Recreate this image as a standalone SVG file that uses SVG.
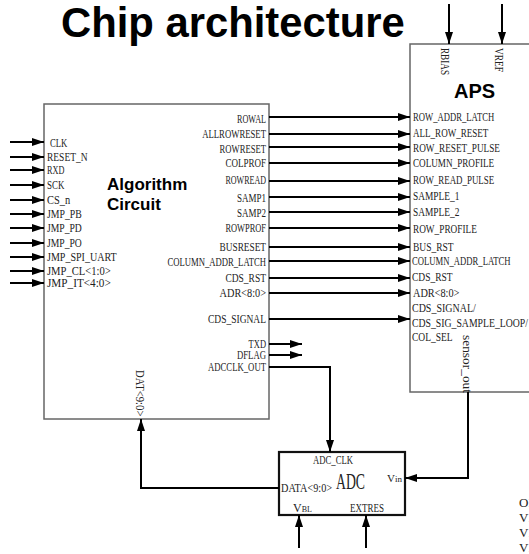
<svg xmlns="http://www.w3.org/2000/svg" width="529" height="554" viewBox="0 0 529 554">
<style>
.box{fill:#fff;stroke:#666;stroke-width:1.5}
.adc{fill:#fff;stroke:#111;stroke-width:2.2}
.w{fill:none;stroke:#000;stroke-width:2}
.l{font-family:"Liberation Serif","Times New Roman",serif;font-size:13px;fill:#222}
.e{text-anchor:end}
.t{font-family:"Liberation Sans",Arial,sans-serif;font-weight:bold;fill:#000}
</style>
<defs>
<marker id="ah" markerUnits="userSpaceOnUse" markerWidth="13" markerHeight="8" refX="12" refY="4" orient="auto">
<path d="M0,0 L12,4 L0,8 z" fill="#000"/>
</marker>
</defs>
<text class="t" x="61" y="37" style="font-size:41.8px">Chip architecture</text>

<g id="algorithm">
<rect class="box" x="44" y="104" width="225" height="315"/>
<text class="t" x="107" y="190" style="font-size:17px">Algorithm</text>
<text class="t" x="107" y="210" style="font-size:17px">Circuit</text>
<text class="l" x="50" y="147" textLength="17.4" lengthAdjust="spacingAndGlyphs">CLK</text>
<text class="l" x="47" y="161" textLength="40.6" lengthAdjust="spacingAndGlyphs">RESET_N</text>
<text class="l" x="47" y="174" textLength="17.4" lengthAdjust="spacingAndGlyphs">RXD</text>
<text class="l" x="47" y="189" textLength="17.4" lengthAdjust="spacingAndGlyphs">SCK</text>
<text class="l" x="47" y="204" textLength="23.2" lengthAdjust="spacingAndGlyphs">CS_n</text>
<text class="l" x="47" y="218" textLength="34.8" lengthAdjust="spacingAndGlyphs">JMP_PB</text>
<text class="l" x="47" y="232" textLength="34.8" lengthAdjust="spacingAndGlyphs">JMP_PD</text>
<text class="l" x="47" y="247" textLength="34.8" lengthAdjust="spacingAndGlyphs">JMP_PO</text>
<text class="l" x="47" y="261" textLength="69.6" lengthAdjust="spacingAndGlyphs">JMP_SPI_UART</text>
<text class="l" x="47" y="275" textLength="63.8" lengthAdjust="spacingAndGlyphs">JMP_CL&lt;1:0&gt;</text>
<text class="l" x="47" y="287" textLength="63.8" lengthAdjust="spacingAndGlyphs">JMP_IT&lt;4:0&gt;</text>
<text class="l e" x="266" y="123" textLength="29" lengthAdjust="spacingAndGlyphs">ROWAL</text>
<text class="l e" x="266" y="138" textLength="63.8" lengthAdjust="spacingAndGlyphs">ALLROWRESET</text>
<text class="l e" x="266" y="153" textLength="46.4" lengthAdjust="spacingAndGlyphs">ROWRESET</text>
<text class="l e" x="266" y="167" textLength="40.6" lengthAdjust="spacingAndGlyphs">COLPROF</text>
<text class="l e" x="266" y="184" textLength="40.6" lengthAdjust="spacingAndGlyphs">ROWREAD</text>
<text class="l e" x="266" y="202" textLength="29" lengthAdjust="spacingAndGlyphs">SAMP1</text>
<text class="l e" x="266" y="217" textLength="29" lengthAdjust="spacingAndGlyphs">SAMP2</text>
<text class="l e" x="266" y="232" textLength="40.6" lengthAdjust="spacingAndGlyphs">ROWPROF</text>
<text class="l e" x="266" y="251" textLength="46.4" lengthAdjust="spacingAndGlyphs">BUSRESET</text>
<text class="l e" x="266" y="266" textLength="98.6" lengthAdjust="spacingAndGlyphs">COLUMN_ADDR_LATCH</text>
<text class="l e" x="266" y="282" textLength="40.6" lengthAdjust="spacingAndGlyphs">CDS_RST</text>
<text class="l e" x="266" y="297" textLength="46.4" lengthAdjust="spacingAndGlyphs">ADR&lt;8:0&gt;</text>
<text class="l e" x="266" y="323" textLength="58" lengthAdjust="spacingAndGlyphs">CDS_SIGNAL</text>
<text class="l e" x="266" y="348" textLength="17.4" lengthAdjust="spacingAndGlyphs">TXD</text>
<text class="l e" x="266" y="359" textLength="29" lengthAdjust="spacingAndGlyphs">DFLAG</text>
<text class="l e" x="266" y="371" textLength="58" lengthAdjust="spacingAndGlyphs">ADCCLK_OUT</text>
<text class="l" transform="translate(136,370) rotate(90)" textLength="46.4" lengthAdjust="spacingAndGlyphs">DAT&lt;9:0&gt;</text>
</g>

<g id="aps">
<rect class="box" x="410" y="44" width="140" height="348"/>
<text class="t" x="454" y="98" style="font-size:20px">APS</text>
<text class="l" transform="translate(441,48) rotate(90)" textLength="27" lengthAdjust="spacingAndGlyphs">RBIAS</text>
<text class="l" transform="translate(495,48) rotate(90)" textLength="24" lengthAdjust="spacingAndGlyphs">VREF</text>
<text class="l" x="413" y="121" textLength="81.2" lengthAdjust="spacingAndGlyphs">ROW_ADDR_LATCH</text>
<text class="l" x="413" y="137" textLength="75.4" lengthAdjust="spacingAndGlyphs">ALL_ROW_RESET</text>
<text class="l" x="413" y="152" textLength="87" lengthAdjust="spacingAndGlyphs">ROW_RESET_PULSE</text>
<text class="l" x="413" y="167" textLength="81.2" lengthAdjust="spacingAndGlyphs">COLUMN_PROFILE</text>
<text class="l" x="413" y="184" textLength="81.2" lengthAdjust="spacingAndGlyphs">ROW_READ_PULSE</text>
<text class="l" x="413" y="200" textLength="46.4" lengthAdjust="spacingAndGlyphs">SAMPLE_1</text>
<text class="l" x="413" y="216" textLength="46.4" lengthAdjust="spacingAndGlyphs">SAMPLE_2</text>
<text class="l" x="413" y="233" textLength="63.8" lengthAdjust="spacingAndGlyphs">ROW_PROFILE</text>
<text class="l" x="413" y="251" textLength="40.6" lengthAdjust="spacingAndGlyphs">BUS_RST</text>
<text class="l" x="412" y="265" textLength="98.6" lengthAdjust="spacingAndGlyphs">COLUMN_ADDR_LATCH</text>
<text class="l" x="412" y="281" textLength="40.6" lengthAdjust="spacingAndGlyphs">CDS_RST</text>
<text class="l" x="413" y="297" textLength="46.4" lengthAdjust="spacingAndGlyphs">ADR&lt;8:0&gt;</text>
<text class="l" x="412" y="312" textLength="63.8" lengthAdjust="spacingAndGlyphs">CDS_SIGNAL/</text>
<text class="l" x="412" y="327" textLength="116" lengthAdjust="spacingAndGlyphs">CDS_SIG_SAMPLE_LOOP/</text>
<text class="l" x="412" y="341" textLength="40.6" lengthAdjust="spacingAndGlyphs">COL_SEL</text>
<text class="l" transform="translate(463,335) rotate(90)" textLength="58" lengthAdjust="spacingAndGlyphs">sensor_out</text>
</g>

<g id="adc">
<rect class="adc" x="279" y="452" width="126" height="63"/>
<text class="l" x="313" y="464" textLength="40" lengthAdjust="spacingAndGlyphs">ADC_CLK</text>
<text class="l" x="336" y="489" style="font-size:23px" textLength="29" lengthAdjust="spacingAndGlyphs">ADC</text>
<text class="l" x="281" y="492" textLength="51" lengthAdjust="spacingAndGlyphs">DATA&lt;9:0&gt;</text>
<text class="l" x="387" y="482" style="font-size:11px" textLength="15" lengthAdjust="spacing">V<tspan style="font-size:9px">in</tspan></text>
<text class="l" x="293" y="512" style="font-size:12px">V<tspan style="font-size:8px">BL</tspan></text>
<text class="l" x="350" y="512" textLength="34" lengthAdjust="spacingAndGlyphs">EXTRES</text>
</g>

<g id="connectors" class="w" marker-end="url(#ah)">
<line x1="10" y1="142" x2="44" y2="142"/>
<line x1="10" y1="157" x2="44" y2="157"/>
<line x1="10" y1="170" x2="44" y2="170"/>
<line x1="10" y1="185" x2="44" y2="185"/>
<line x1="10" y1="200" x2="44" y2="200"/>
<line x1="10" y1="214" x2="44" y2="214"/>
<line x1="10" y1="228" x2="44" y2="228"/>
<line x1="10" y1="243" x2="44" y2="243"/>
<line x1="10" y1="257" x2="44" y2="257"/>
<line x1="10" y1="271" x2="44" y2="271"/>
<line x1="10" y1="283" x2="44" y2="283"/>
<line x1="269" y1="117" x2="410" y2="117"/>
<line x1="269" y1="134" x2="410" y2="134"/>
<line x1="269" y1="147" x2="410" y2="147"/>
<line x1="269" y1="163" x2="410" y2="163"/>
<line x1="269" y1="181" x2="410" y2="181"/>
<line x1="269" y1="197" x2="410" y2="197"/>
<line x1="269" y1="212" x2="410" y2="212"/>
<line x1="269" y1="228" x2="410" y2="228"/>
<line x1="269" y1="247" x2="410" y2="247"/>
<line x1="269" y1="261" x2="410" y2="261"/>
<line x1="269" y1="278" x2="410" y2="278"/>
<line x1="269" y1="293" x2="410" y2="293"/>
<line x1="269" y1="319" x2="410" y2="319"/>
<line x1="269" y1="344" x2="302" y2="344"/>
<line x1="269" y1="355" x2="302" y2="355"/>
<polyline points="269,367 330,367 330,452"/>
<polyline points="468,392 468,478 405,478"/>
<polyline points="279,488 141,488 141,419"/>
<line x1="299" y1="548" x2="299" y2="515"/>
<line x1="366" y1="548" x2="366" y2="515"/>
<line x1="449" y1="4" x2="449" y2="44"/>
<line x1="502" y1="4" x2="502" y2="44"/>
</g>

<g id="clipped-labels">
<text class="l" x="519" y="507">OE</text>
<text class="l" x="519" y="522">VI</text>
<text class="l" x="519" y="537">VI</text>
<text class="l" x="519" y="552">VI</text>
</g>
</svg>
